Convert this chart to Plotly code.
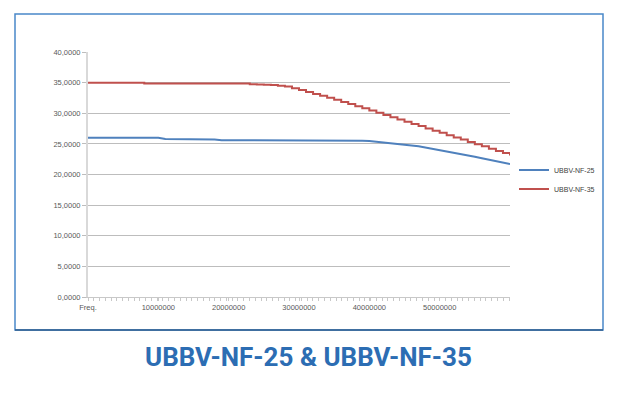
import plotly.graph_objects as go

# Frequency points (Hz), 1 MHz apart
freq = [i * 1_000_000 for i in range(61)]

nf25 = [26.0, 26.0, 26.0, 26.0, 26.0, 26.0, 26.0, 26.0, 26.0, 26.0,
        26.0, 25.8, 25.8, 25.8, 25.7, 25.7, 25.7, 25.7, 25.7, 25.6,
        25.6, 25.6, 25.6, 25.6, 25.6, 25.6, 25.6, 25.6, 25.6, 25.5,
        25.6, 25.6, 25.6, 25.6, 25.6, 25.6, 25.6, 25.5, 25.5, 25.5,
        25.45, 25.35, 25.25, 25.15, 25.0, 24.9, 24.75, 24.6, 24.4, 24.2,
        24.0, 23.8, 23.6, 23.35, 23.1, 22.9, 22.65, 22.4, 22.15, 21.9,
        21.7]

nf35 = [35.0, 35.0, 35.0, 35.0, 35.0, 35.0, 35.0, 35.0, 34.85, 34.85,
        34.85, 34.85, 34.85, 34.85, 34.85, 34.85, 34.85, 34.85, 34.85, 34.85,
        34.85, 34.85, 34.85, 34.75, 34.7, 34.65, 34.6, 34.5, 34.35, 34.1,
        33.8, 33.45, 33.15, 32.85, 32.55, 32.2, 31.85, 31.5, 31.15, 30.8,
        30.45, 30.1, 29.7, 29.35, 29.0, 28.6, 28.25, 27.9, 27.5, 27.15,
        26.8, 26.4, 26.05, 25.7, 25.3, 24.95, 24.6, 24.2, 23.85, 23.5,
        23.1]

series_names = ["UBBV-NF-25", "UBBV-NF-35"]
series_colors = ["#4f81bd", "#c0504d"]

y_tickvals = [0, 5, 10, 15, 20, 25, 30, 35, 40]
y_ticktext = ["0,0000", "5,0000", "10,0000", "15,0000", "20,0000",
              "25,0000", "30,0000", "35,0000", "40,0000"]
x_tickvals = [0, 10_000_000, 20_000_000, 30_000_000, 40_000_000, 50_000_000]
x_ticktext = ["Freq.", "10000000", "20000000", "30000000", "40000000", "50000000"]

title_text = "UBBV-NF-25 & UBBV-NF-35"

fig = go.Figure()
fig.add_trace(go.Scatter(x=freq, y=nf25, mode="lines", name=series_names[0],
                         line=dict(color=series_colors[0], width=2)))
fig.add_trace(go.Scatter(x=freq, y=nf35, mode="lines", name=series_names[1],
                         line=dict(color=series_colors[1], width=2, shape="hv")))

OFF = 8  # default body margin of the page
W, H = 630 - OFF, 397 - OFF
L, T = 88 - OFF, 52 - OFF
R = W - (510 - OFF)
B = H - (297 - OFF)
pw = W - L - R
ph = H - T - B

def px_x(x):
    return (x - OFF - L) / pw

def px_y(y):
    return (H - B - (y - OFF)) / ph

fig.update_layout(
    width=W, height=H,
    margin=dict(l=L, r=R, t=T, b=B),
    paper_bgcolor="white", plot_bgcolor="white",
    font=dict(family="Liberation Sans, Arial, sans-serif", color="#595959"),
    showlegend=True,
    legend=dict(x=px_x(514), xanchor="left", y=px_y(179.5), yanchor="middle",
                font=dict(size=7, color="#404040"), itemwidth=30,
                bgcolor="rgba(0,0,0,0)", tracegroupgap=2),
    xaxis=dict(range=[0, 60_000_000], tickvals=x_tickvals, ticktext=x_ticktext,
               showgrid=False, zeroline=False, showline=True,
               linecolor="#c8c8c8", linewidth=1,
               ticks="outside", ticklen=3, tickcolor="#c8c8c8",
               minor=dict(dtick=820_000, tick0=0, ticks="outside", ticklen=3,
                          tickcolor="#c8c8c8", showgrid=False),
               tickfont=dict(size=7.5, color="#595959")),
    yaxis=dict(range=[0, 40], tickvals=y_tickvals, ticktext=y_ticktext,
               showgrid=True, gridcolor="#bdbdbd", gridwidth=1,
               zeroline=False, showline=True, linecolor="#d9d9d9", linewidth=2,
               ticks="outside", ticklen=4, tickcolor="#bdbdbd",
               tickfont=dict(size=7.5, color="#595959")),
)

# frame around chart
fig.add_shape(type="rect", xref="paper", yref="paper",
              x0=px_x(15), x1=px_x(603), y0=px_y(330), y1=px_y(14),
              line=dict(color="#4a88c9", width=1.5), layer="below")
fig.add_shape(type="line", xref="paper", yref="paper",
              x0=px_x(15), x1=px_x(603), y0=px_y(330), y1=px_y(330),
              line=dict(color="#2f5e8e", width=1.5))

fig.add_annotation(text=title_text, xref="paper", yref="paper",
                   x=px_x(308), y=px_y(357), xanchor="center", yanchor="middle",
                   showarrow=False,
                   font=dict(family="Roboto, sans-serif", size=26, color="#2c6db3",
                             weight="bold"))

fig.write_html("out.html")
